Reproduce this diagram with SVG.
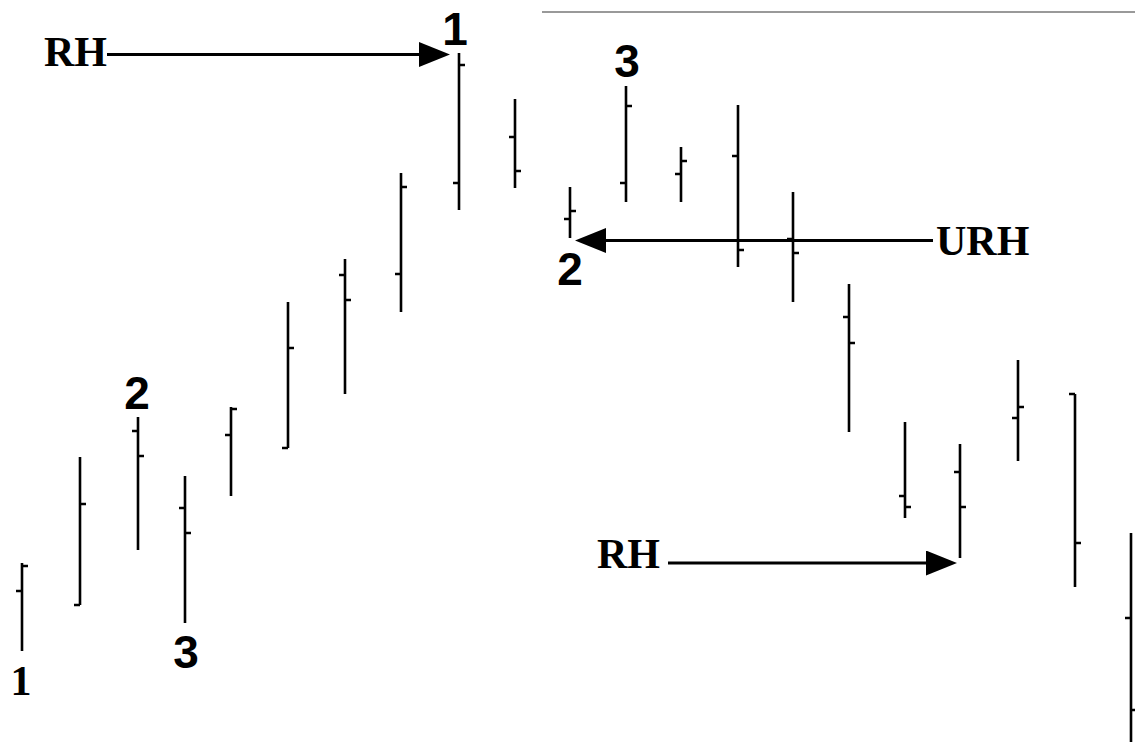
<svg xmlns="http://www.w3.org/2000/svg" width="1135" height="747" viewBox="0 0 1135 747">
<style>
.bar{fill:none;stroke:#000;stroke-width:2.6}
.conn{fill:none;stroke:#000;stroke-width:3}
.lbl{font-family:"Liberation Serif","Times New Roman",serif;font-weight:bold;font-size:42px;fill:#000}
.num{font-family:"Liberation Sans",Arial,sans-serif;font-weight:bold;font-size:46px;fill:#000;text-anchor:middle}
.numserif{font-family:"Liberation Serif","Times New Roman",serif;font-weight:bold;font-size:42px;fill:#000;text-anchor:middle}
</style>
<defs>
<marker id="ah" markerUnits="userSpaceOnUse" markerWidth="32" markerHeight="26" refX="0" refY="12.5" orient="auto">
<path d="M0,0 L31,12.5 L0,25 Z" fill="#000"/>
</marker>
</defs>
<rect width="1135" height="747" fill="#fff"/>
<line x1="542" y1="12" x2="1135" y2="12" stroke="#777" stroke-width="1.3"/>
<g id="bars">
<g id="bar-1"><path class="bar" d="M22,563 V651 M16,591 H22 M22,566 H28"/></g>
<g id="bar-2"><path class="bar" d="M80,457 V605 M74,605 H80 M80,504 H86"/></g>
<g id="bar-3"><path class="bar" d="M138,417 V550 M132,431 H138 M138,456 H144"/></g>
<g id="bar-4"><path class="bar" d="M185,476 V623 M179,508 H185 M185,533 H191"/></g>
<g id="bar-5"><path class="bar" d="M231,407 V496 M225,435 H231 M231,409 H237"/></g>
<g id="bar-6"><path class="bar" d="M288,302 V448 M282,448 H288 M288,348 H294"/></g>
<g id="bar-7"><path class="bar" d="M345,259 V394 M339,275 H345 M345,300 H351"/></g>
<g id="bar-8"><path class="bar" d="M401,173 V312 M395,274 H401 M401,187 H407"/></g>
<g id="bar-9"><path class="bar" d="M459,53 V210 M453,183 H459 M459,65 H465"/></g>
<g id="bar-10"><path class="bar" d="M515,99 V188 M509,137 H515 M515,171 H521"/></g>
<g id="bar-11"><path class="bar" d="M570,187 V238 M564,219 H570 M570,211 H576"/></g>
<g id="bar-12"><path class="bar" d="M626,86 V202 M620,183 H626 M626,106 H632"/></g>
<g id="bar-13"><path class="bar" d="M681,147 V202 M675,174 H681 M681,161 H687"/></g>
<g id="bar-14"><path class="bar" d="M738,105 V267 M732,156 H738 M738,250 H744"/></g>
<g id="bar-15"><path class="bar" d="M793,192 V302 M787,239 H793 M793,253 H799"/></g>
<g id="bar-16"><path class="bar" d="M849,284 V432 M843,317 H849 M849,343 H855"/></g>
<g id="bar-17"><path class="bar" d="M905,422 V518 M899,496 H905 M905,507 H911"/></g>
<g id="bar-18"><path class="bar" d="M960,444 V558 M954,472 H960 M960,507 H966"/></g>
<g id="bar-19"><path class="bar" d="M1018,360 V461 M1012,418 H1018 M1018,407 H1024"/></g>
<g id="bar-20"><path class="bar" d="M1075,394 V587 M1069,394 H1075 M1075,543 H1081"/></g>
<g id="bar-21"><path class="bar" d="M1131,533 V742 M1125,618 H1131 M1131,710 H1137"/></g>
</g>
<g id="connectors">
<line class="conn" x1="107" y1="54.5" x2="419" y2="54.5" marker-end="url(#ah)"/>
<line class="conn" x1="933" y1="240.5" x2="606" y2="240.5" marker-end="url(#ah)"/>
<line class="conn" x1="668" y1="563" x2="926" y2="563" marker-end="url(#ah)"/>
</g>
<g id="label-rh-top"><text class="lbl" x="44" y="66">RH</text></g>
<g id="label-urh"><text class="lbl" x="936" y="255">URH</text></g>
<g id="label-rh-bottom"><text class="lbl" x="597" y="568">RH</text></g>
<g id="label-1-top"><text class="num" x="455" y="45">1</text></g>
<g id="label-2-left"><text class="num" x="137" y="409">2</text></g>
<g id="label-3-left"><text class="num" x="186" y="668">3</text></g>
<g id="label-2-mid"><text class="num" x="570" y="285">2</text></g>
<g id="label-3-mid"><text class="num" x="627" y="77">3</text></g>
<g id="label-1-bottom"><text class="numserif" x="21" y="695">1</text></g>
</svg>
